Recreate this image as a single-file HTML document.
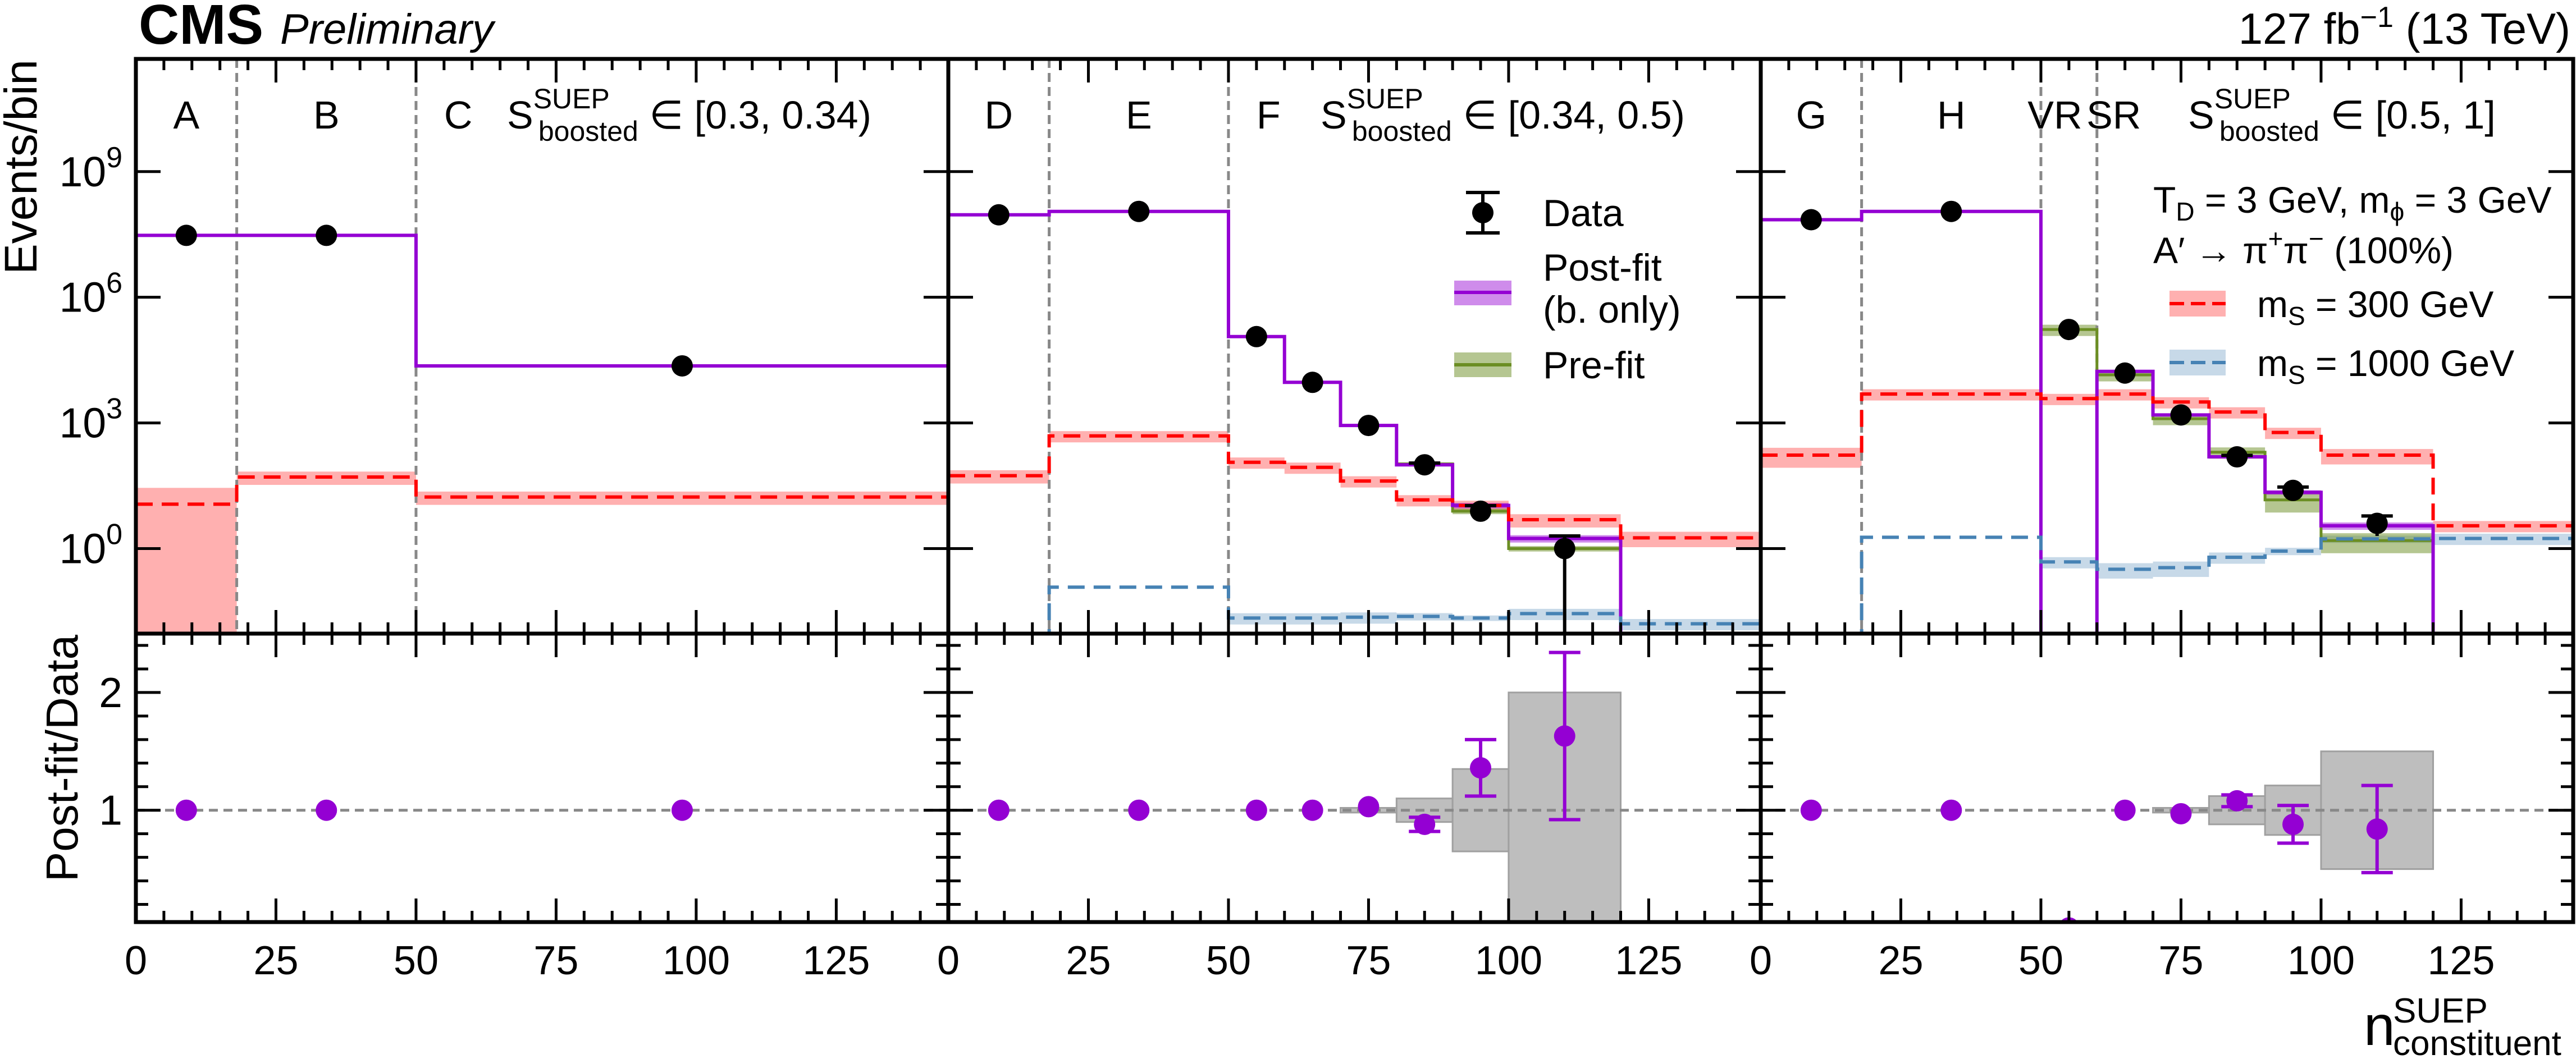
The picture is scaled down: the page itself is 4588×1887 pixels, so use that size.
<!DOCTYPE html>
<html><head><meta charset="utf-8"><style>
html,body{margin:0;padding:0;background:#fff}
svg{display:block;font-family:"Liberation Sans",sans-serif}
</style></head><body>
<svg id="chart" width="4588" height="1887" viewBox="0 0 4588 1887" xmlns="http://www.w3.org/2000/svg">
<rect width="4588" height="1887" fill="#fff"/>
<g id="layer"></g>
<text x="247" y="78" font-size="100" font-weight="bold">CMS</text>
<text x="499" y="78" font-size="76" font-style="italic">Preliminary</text>
<text x="4578" y="78" font-size="78" text-anchor="end">127 fb<tspan dy="-30" font-size="52">−1</tspan><tspan dy="30"> (13 TeV)</tspan></text>
<text transform="translate(65,106) rotate(-90)" font-size="82" text-anchor="end">Events/bin</text>
<text transform="translate(138,1131) rotate(-90)" font-size="80" text-anchor="end">Post-fit/Data</text>
<text x="4210" y="1862" font-size="100">n</text>
<text x="4262" y="1822" font-size="62">SUEP</text>
<text x="4262" y="1880" font-size="62">constituent</text>
</svg>
<script>
// ---------- data ----------
const edges1 = [0, 18, 50, 145];
const edges23 = [0, 18, 50, 60, 70, 80, 90, 100, 120, 145];
const centers1 = [9, 34, 97.5];
const centers23 = [9, 34, 55, 65, 75, 85, 95, 110];
const regionLabels1 = ["A", "B", "C"];
const regionLabels2 = ["D", "E", "F"];
const regionLabels3 = ["G", "H", "VR", "SR"];
const sLabels = ["[0.3, 0.34)", "[0.34, 0.5)", "[0.5, 1]"];

const postfit1 = [3.0e7, 3.0e7, 2.3e4];
const data1 = [3.0e7, 3.0e7, 2.3e4];
const sig300_1 = [11.5, 51, 17];
const sig300unc1 = [1.45, 0.35, 0.35];
const sig1000_1 = [0.001, 0.001, 0.001];
const ratio1 = [1, 1, 1];

const postfit2 = [9.3e7, 1.12e8, 1.15e5, 9.3e3, 870, 100, 10.7, 1.74, 0];
const postunc2 = [0.05, 0.05, 0.05, 0.05, 0.05, 0.08, 0.15, 0.2, 0];
const prefit2 = [9.3e7, 1.12e8, 1.15e5, 9.3e3, 870, 105, 7.8, 1.0, 0];
const preunc2 = [0.05, 0.05, 0.05, 0.05, 0.05, 0.08, 0.15, 0.15, 0];
const data2 = [9.3e7, 1.12e8, 1.15e5, 9.3e3, 870, 100, 7.8, 1.0];
const sig300_2 = [55, 490, 115, 87, 41, 14.5, 10.7, 4.9, 1.8];
const sig300unc2 = [0.35, 0.3, 0.3, 0.3, 0.3, 0.3, 0.3, 0.35, 0.4];
const sig1000_2 = [0.001, 0.12, 0.022, 0.022, 0.023, 0.024, 0.022, 0.028, 0.016];
const sig1000unc2 = [0, 0, 0.3, 0.3, 0.3, 0.2, 0.15, 0.3, 0.3];
const ratio2 = [1, 1, 1, 1, 1.03, 0.88, 1.36, 1.63];
const ratioErr2 = [0, 0, 0, 0, 0.01, 0.06, 0.24, 0.71];
const ratioBand2 = [0, 0, 0, 0, 0.02, 0.1, 0.35, 1.0, 0];

const postfit3 = [7.1e7, 1.12e8, 0, 1.7e4, 1550, 155, 22, 3.5, 0];
const postunc3 = [0.05, 0.05, 0, 0.05, 0.05, 0.08, 0.12, 0.2, 0];
const prefit3 = [7.1e7, 1.12e8, 1.7e5, 1.4e4, 1260, 200, 14.5, 1.55, 0];
const preunc3 = [0.05, 0.05, 0.3, 0.3, 0.3, 0.3, 0.5, 0.5, 0];
const data3 = [7.1e7, 1.12e8, 1.7e5, 1.55e4, 1550, 155, 24.5, 4.0];
const sig300_3 = [170, 4900, 3800, 4900, 3160, 1820, 590, 170, 3.5];
const sig300unc3 = [0.5, 0.3, 0.3, 0.3, 0.3, 0.3, 0.3, 0.4, 0.3];
const sig1000_3 = [0.001, 1.86, 0.48, 0.32, 0.35, 0.62, 0.87, 1.7, 1.74];
const sig1000unc3 = [0, 0, 0.3, 0.4, 0.4, 0.3, 0.2, 0.2, 0.3];
const ratio3 = [1, 1, 0, 1, 0.97, 1.08, 0.88, 0.84];
const ratioErr3 = [0, 0, 0, 0, 0.01, 0.05, 0.16, 0.37];
const ratioBand3 = [0, 0, 0, 0, 0.02, 0.12, 0.21, 0.5, 0];

const xTicks = [0, 25, 50, 75, 100, 125];
const yTickExp = [0, 3, 6, 9];
const ratioTicks = [1, 2];

// ---------- layout ----------
const NS = "http://www.w3.org/2000/svg";
const layer = document.getElementById("layer");
const PX0 = [242, 1689, 3136], PW = 1447, XMAX = 145;
const MT = 105, MB = 1129, RB = 1643;
const LOGLO = -2.03, LOGHI = 11.69;
const RLO = 0.05, RHI = 2.5;
const PURPLE = "#9400d3", RED = "#ff0000", BLUE = "#4682b4", GREEN = "#6b8e23";

function el(tag, attrs, parent) {
  const e = document.createElementNS(NS, tag);
  for (const k in attrs) e.setAttribute(k, attrs[k]);
  (parent || layer).appendChild(e);
  return e;
}
function xs(p, v) { return PX0[p] + v / XMAX * PW; }
function ym(v) { if (v <= 0) return MB + 60; return MB - (Math.log10(v) - LOGLO) / (LOGHI - LOGLO) * (MB - MT); }
function yr(v) { return RB - (v - RLO) / (RHI - RLO) * (RB - MB); }

const defs = el("defs", {});
for (let p = 0; p < 3; p++) {
  const c1 = el("clipPath", { id: "cm" + p }, defs);
  el("rect", { x: PX0[p], y: MT, width: PW, height: MB - MT }, c1);
  const c2 = el("clipPath", { id: "cr" + p }, defs);
  el("rect", { x: PX0[p], y: MB, width: PW, height: RB - MB }, c2);
}

function stepPath(p, edges, vals) {
  let d = "M" + xs(p, edges[0]) + " " + ym(vals[0]);
  for (let i = 0; i < vals.length; i++) {
    if (i > 0) d += " V" + ym(vals[i]);
    d += " H" + xs(p, edges[i + 1]);
  }
  return d;
}
function bands(g, p, edges, vals, unc, fill, name) {
  for (let i = 0; i < vals.length; i++) {
    if (!unc[i] || vals[i] <= 0) continue;
    const hi = vals[i] * (1 + unc[i]), lo = vals[i] * (1 - unc[i]);
    const r = el("rect", { x: xs(p, edges[i]), y: ym(hi), width: xs(p, edges[i + 1]) - xs(p, edges[i]), height: ym(lo) - ym(hi), fill: fill }, g);
    
    
  }
}
function line(g, d, color, w, dash, name) {
  const e = el("path", { d: d, fill: "none", stroke: color, "stroke-width": w }, g);
  if (dash) e.setAttribute("stroke-dasharray", dash);
  
  
  return e;
}

const panels = [
  { edges: edges1, centers: centers1, post: postfit1, postunc: null, pre: null, data: data1, s3: sig300_1, s3u: sig300unc1, s1: sig1000_1, s1u: null, ratio: ratio1, rerr: null, rband: null, dashes: [18, 50], labels: regionLabels1 },
  { edges: edges23, centers: centers23, post: postfit2, postunc: postunc2, pre: prefit2, preunc: preunc2, data: data2, s3: sig300_2, s3u: sig300unc2, s1: sig1000_2, s1u: sig1000unc2, ratio: ratio2, rerr: ratioErr2, rband: ratioBand2, dashes: [18, 50], labels: regionLabels2 },
  { edges: edges23, centers: centers23, post: postfit3, postunc: postunc3, pre: prefit3, preunc: preunc3, data: data3, s3: sig300_3, s3u: sig300unc3, s1: sig1000_3, s1u: sig1000unc3, ratio: ratio3, rerr: ratioErr3, rband: ratioBand3, dashes: [18, 50, 60], labels: regionLabels3 }
];
const labelX = [[9, 34, 55], [9, 34, 55], [9, 34, 52.5, 63]];

panels.forEach((P, p) => {
  const g = el("g", { "clip-path": "url(#cm" + p + ")" });
  
  
  bands(g, p, P.edges, P.s3, P.s3u, "rgba(255,80,80,0.45)", "signal-300");
  if (P.s1u) bands(g, p, P.edges, P.s1, P.s1u, "rgba(70,130,180,0.3)", "signal-1000");
  if (P.pre) bands(g, p, P.edges, P.pre, P.preunc, "rgba(107,142,35,0.5)", "prefit");
  if (P.postunc) bands(g, p, P.edges, P.post, P.postunc, "rgba(148,0,211,0.45)", "postfit");
  P.dashes.forEach((v, k) => {
    const e = el("line", { x1: xs(p, v), x2: xs(p, v), y1: MT, y2: MB, stroke: "#888", "stroke-width": 5, "stroke-dasharray": "16 9" }, g);
    
    
  });
  if (P.pre) line(g, stepPath(p, P.edges, P.pre), GREEN, 5, null, "prefit-line");
  line(g, stepPath(p, P.edges, P.post), PURPLE, 6, null, "postfit-line");
  line(g, stepPath(p, P.edges, P.s3), RED, 6, "30 16", "signal-300-line");
  line(g, stepPath(p, P.edges, P.s1), BLUE, 6, "30 16", "signal-1000-line");
  P.data.forEach((v, i) => {
    const cx = xs(p, P.centers[i]), cy = ym(v);
    const err = Math.sqrt(v);
    const yl = ym(v - err), yh = ym(v + err);
    if (yl - yh > 4) {
      const e = el("path", { d: `M${cx} ${yh} V${yl} M${cx - 28} ${yh} H${cx + 28}`, stroke: "#000", "stroke-width": 6, fill: "none" }, g);
      
      
    }
    const c = el("circle", { cx: cx, cy: cy, r: 19, fill: "#000" }, g);
    
    
  });

  const gr = el("g", { "clip-path": "url(#cr" + p + ")" });
  
  
  if (P.rband) {
    P.rband.forEach((b, i) => {
      if (b <= 0) return;
      const r = el("rect", { x: xs(p, P.edges[i]), y: yr(1 + b), width: xs(p, P.edges[i + 1]) - xs(p, P.edges[i]), height: yr(1 - b) - yr(1 + b), fill: "#bebebe", stroke: "#a0a0a0", "stroke-width": 3 }, gr);
      
      
    });
  }
  const l1 = el("line", { x1: PX0[p], x2: PX0[p] + PW, y1: yr(1), y2: yr(1), stroke: "#888", "stroke-width": 5, "stroke-dasharray": "16 10" }, gr);
  
  
  P.ratio.forEach((v, i) => {
    const cx = xs(p, P.centers[i]);
    const e = P.rerr ? P.rerr[i] : 0;
    if (e > 0.02) {
      const pe = el("path", { d: `M${cx} ${yr(v + e)} V${yr(v - e)} M${cx - 28} ${yr(v + e)} H${cx + 28} M${cx - 28} ${yr(v - e)} H${cx + 28}`, stroke: PURPLE, "stroke-width": 6, fill: "none" }, gr);
      
      
    }
    const c = el("circle", { cx: cx, cy: yr(v), r: 19, fill: PURPLE }, gr);
    
    
  });

  const x0 = PX0[p], x1 = PX0[p] + PW;
  let d = "";
  for (let t = 0; t <= XMAX; t += 5) {
    const x = xs(p, t), big = t % 25 === 0, L = big ? 42 : 20;
    d += `M${x} ${MT} v${L} M${x} ${MB} v${-L} M${x} ${MB} v${L} M${x} ${RB} v${-L} `;
  }
  yTickExp.forEach(e => { const y = ym(Math.pow(10, e)); d += `M${x0} ${y} h44 M${x1} ${y} h-44 `; });
  for (let k = 1; k <= 12; k++) {
    const v = k * 0.2, y = yr(v), big = Math.abs(v - Math.round(v)) < 1e-6, L = big ? 44 : 22;
    d += `M${x0} ${y} h${L} M${x1} ${y} h${-L} `;
  }
  const tk = el("path", { d: d, stroke: "#000", "stroke-width": 5, fill: "none" });
  
  
  const fr = el("path", { d: `M${x0} ${MT} H${x1} V${RB} H${x0} Z M${x0} ${MB} H${x1}`, stroke: "#000", "stroke-width": 7, fill: "none" });
  
  

  xTicks.forEach(t => {
    const tx = el("text", { x: xs(p, t), y: 1736, "font-size": 72, "text-anchor": "middle" });
    tx.textContent = t;
    
    
  });
  P.labels.forEach((s, k) => {
    const tx = el("text", { x: xs(p, labelX[p][k]), y: 229, "font-size": 70, "text-anchor": k === 2 && p < 2 ? "start" : "middle" });
    tx.textContent = s;
    
    
  });
  const sx = [903, 2352, 3897][p];
  const st = el("text", { x: sx, y: 229, "font-size": 70 });
  
  
  st.innerHTML = `S<tspan dy="-36" font-size="50">SUEP</tspan><tspan dx="-127" dy="58" font-size="50">boosted</tspan><tspan dy="-22"> ∈ ${sLabels[p]}</tspan>`;
});
yTickExp.forEach(e => {
  const y = ym(Math.pow(10, e));
  const t = el("text", { x: 218, y: y + 26, "font-size": 75, "text-anchor": "end" });
  t.innerHTML = `10<tspan dy="-34" font-size="52">${e}</tspan>`;
  
  
});
ratioTicks.forEach(v => {
  const t = el("text", { x: 218, y: yr(v) + 26, "font-size": 75, "text-anchor": "end" });
  t.textContent = v;
  
  
});

const lg = el("g", {});


el("path", { d: "M2641 343 V415 M2611 343 H2671 M2611 415 H2671", stroke: "#000", "stroke-width": 6, fill: "none" }, lg);
const lm = el("circle", { cx: 2641, cy: 379, r: 19, fill: "#000" }, lg);


el("rect", { x: 2590, y: 500, width: 102, height: 44, fill: "rgba(148,0,211,0.45)" }, lg);
el("line", { x1: 2590, x2: 2692, y1: 521, y2: 521, stroke: PURPLE, "stroke-width": 6 }, lg);
el("rect", { x: 2590, y: 628, width: 102, height: 44, fill: "rgba(107,142,35,0.5)" }, lg);
el("line", { x1: 2590, x2: 2692, y1: 650, y2: 650, stroke: GREEN, "stroke-width": 6 }, lg);
[["Data", 403], ["Post-fit", 500], ["(b. only)", 575], ["Pre-fit", 674]].forEach(([s, y]) => {
  const t = el("text", { x: 2748, y: y, "font-size": 68 }, lg);
  t.textContent = s;
  
  
});
const t1 = el("text", { x: 3835, y: 379, "font-size": 66 }, lg);
t1.innerHTML = 'T<tspan dy="14" font-size="46">D</tspan><tspan dy="-14"> = 3 GeV, m</tspan><tspan dy="14" font-size="46">ϕ</tspan><tspan dy="-14"> = 3 GeV</tspan>';


const t2 = el("text", { x: 3835, y: 469, "font-size": 66 }, lg);
t2.innerHTML = 'A′ → π<tspan dy="-28" font-size="46">+</tspan><tspan dy="28">π</tspan><tspan dy="-28" font-size="46">−</tspan><tspan dy="28">  (100%)</tspan>';


el("rect", { x: 3864, y: 518, width: 100, height: 46, fill: "rgba(255,80,80,0.45)" }, lg);
el("line", { x1: 3864, x2: 3964, y1: 541, y2: 541, stroke: RED, "stroke-width": 6, "stroke-dasharray": "26 12" }, lg);
el("rect", { x: 3864, y: 623, width: 100, height: 46, fill: "rgba(70,130,180,0.3)" }, lg);
el("line", { x1: 3864, x2: 3964, y1: 646, y2: 646, stroke: BLUE, "stroke-width": 6, "stroke-dasharray": "26 12" }, lg);
[["300", 565], ["1000", 670]].forEach(([m, y]) => {
  const t = el("text", { x: 4020, y: y, "font-size": 66 }, lg);
  t.innerHTML = `m<tspan dy="14" font-size="46">S</tspan><tspan dy="-14"> = ${m} GeV</tspan>`;
  
  
});
</script>
</body></html>
